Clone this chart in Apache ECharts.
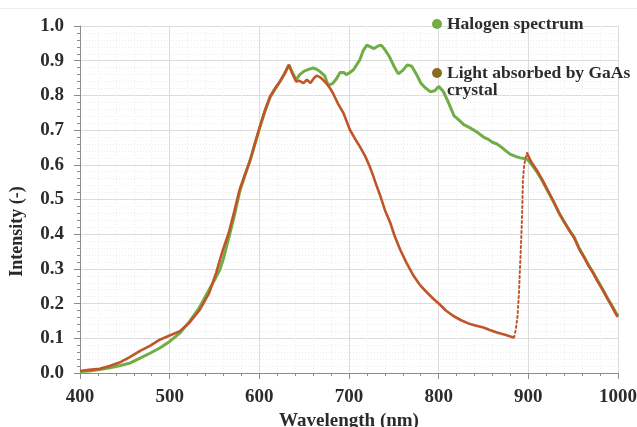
<!DOCTYPE html>
<html>
<head>
<meta charset="utf-8">
<script src="https://cdn.jsdelivr.net/npm/echarts@6/dist/echarts.min.js"></script>
<style>html,body{margin:0;padding:0;background:#fff}#c{width:637px;height:427px}</style>
</head>
<body>
<div id="c"></div>
<script>
// ---- data ----
const xTicks = [400, 500, 600, 700, 800, 900, 1000];
const yTicks = [0.0, 0.1, 0.2, 0.3, 0.4, 0.5, 0.6, 0.7, 0.8, 0.9, 1.0];

const halogenWave = [400,410,420,432,444,455,467,478,489,500,511,522,533,544,550,556,560,566,572,578,584,590,595,600,606,612,618,623,628,633,637,641,645,650,655,660,664,668,673,677,682,686,690,694,697,701,705,709,712,716,720,724,728,732,736,740,745,750,755,760,765,770,775,780,785,791,796,800,805,810,817,823,828,834,839,845,850,855,860,865,869,875,880,886,891,895,899,904,910,916,922,928,935,940,946,951,957,962,967,972,977,983,988,993,998,1000];
const halogenInt = [0.004,0.006,0.009,0.014,0.021,0.028,0.043,0.057,0.072,0.091,0.114,0.148,0.188,0.24,0.268,0.298,0.33,0.39,0.452,0.522,0.57,0.615,0.66,0.703,0.752,0.795,0.82,0.84,0.862,0.888,0.865,0.845,0.86,0.87,0.875,0.879,0.875,0.868,0.856,0.828,0.835,0.848,0.866,0.866,0.86,0.866,0.874,0.89,0.902,0.93,0.945,0.94,0.935,0.942,0.945,0.932,0.912,0.885,0.862,0.872,0.888,0.884,0.862,0.836,0.822,0.81,0.814,0.826,0.812,0.785,0.742,0.728,0.716,0.708,0.7,0.69,0.68,0.674,0.665,0.66,0.653,0.64,0.63,0.624,0.62,0.618,0.615,0.6,0.578,0.552,0.522,0.494,0.458,0.436,0.41,0.392,0.358,0.336,0.312,0.29,0.268,0.24,0.217,0.195,0.172,0.165];

const absorbedWave = [400,410,422,433,444,455,467,478,489,500,511,522,533,544,552,559,566,572,578,584,590,595,600,606,612,618,623,628,633,637,641,645,649,653,657,661,664,668,671,675,679,682,688,694,701,706,712,718,723,727,731,735,740,746,751,757,764,772,779,787,794,801,808,816,825,835,842,850,857,865,874,880,884,886,888,889.5,890.5,891.5,892.5,893.3,894,895,896.5,898.5,900,904,910,916,922,928,935,940,946,951,957,962,967,972,977,983,988,993,998,1000];
const absorbedInt = [0.006,0.009,0.012,0.02,0.03,0.045,0.064,0.078,0.096,0.108,0.12,0.145,0.18,0.23,0.29,0.352,0.405,0.465,0.528,0.572,0.615,0.66,0.705,0.755,0.797,0.822,0.84,0.862,0.888,0.862,0.84,0.842,0.835,0.845,0.836,0.85,0.857,0.852,0.845,0.834,0.82,0.807,0.775,0.748,0.701,0.678,0.653,0.625,0.596,0.568,0.538,0.51,0.47,0.433,0.394,0.356,0.318,0.28,0.254,0.232,0.214,0.198,0.18,0.165,0.152,0.141,0.136,0.131,0.124,0.117,0.11,0.105,0.102,0.125,0.165,0.23,0.29,0.35,0.415,0.48,0.555,0.59,0.615,0.634,0.625,0.605,0.582,0.555,0.525,0.495,0.457,0.435,0.41,0.39,0.356,0.334,0.31,0.29,0.265,0.24,0.215,0.193,0.168,0.162];
// sparse (dotted) stretch of the absorbed curve
const riseStart = 884, riseEnd = 898.5;

const nameHalogen = 'Halogen spectrum';
const nameAbsorbed = 'Light absorbed by GaAs crystal';

// ---- build ----
const zip = (xs, ys) => xs.map((x, i) => [x, ys[i]]);
const halogenData = zip(halogenWave, halogenInt);
const absorbedAll = zip(absorbedWave, absorbedInt);
const segA = absorbedAll.filter(p => p[0] <= riseStart);
const segB = absorbedAll.filter(p => p[0] >= riseStart && p[0] <= riseEnd);
const segC = absorbedAll.filter(p => p[0] >= riseEnd);

const FONT = 'Liberation Serif';
const TXT = '#2b2b2b';
const AXC = '#8c8c8c';
const GREEN = '#70ad47';
const RED = '#c0552a';
const BROWN = '#8d6a22';

const chart = echarts.init(document.getElementById('c'), null, {renderer: 'canvas'});

const legendText = {fontFamily: FONT, fontWeight: 'bold', fontSize: 17.5, color: TXT, lineHeight: 17};

chart.setOption({
  animation: false,
  backgroundColor: '#fff',
  graphic: [{type: 'line', shape: {x1: 0, y1: 8.5, x2: 637, y2: 8.5}, style: {stroke: '#ececec', lineWidth: 1}, silent: true}],
  grid: {left: 80, right: 19, top: 26, bottom: 54, containLabel: false, outerBoundsMode: 'none'},
  legend: [
    {
      data: [{name: nameHalogen, icon: 'circle', itemStyle: {color: GREEN}}],
      left: 432, top: 15, padding: 0, itemWidth: 10, itemHeight: 10,
      selectedMode: false, textStyle: legendText
    },
    {
      data: [{name: nameAbsorbed, icon: 'circle', itemStyle: {color: BROWN}}],
      left: 432, top: 47, padding: 0, itemWidth: 10, itemHeight: 10,
      selectedMode: false,
      formatter: () => ' \nLight absorbed by GaAs\ncrystal',
      textStyle: legendText
    }
  ],
  xAxis: {
    type: 'value', min: xTicks[0], max: xTicks[xTicks.length - 1], interval: xTicks[1] - xTicks[0],
    name: 'Wavelength (nm)', nameLocation: 'middle', nameGap: 37,
    nameTextStyle: {fontFamily: FONT, fontWeight: 'bold', fontSize: 19, color: TXT},
    axisLine: {show: true, onZero: false, lineStyle: {color: AXC, width: 1}},
    axisTick: {show: true, inside: false, length: 6, lineStyle: {color: AXC}},
    minorTick: {show: true, splitNumber: 5, length: 3, lineStyle: {color: AXC}},
    axisLabel: {margin: 15, fontFamily: FONT, fontWeight: 'bold', fontSize: 19, color: TXT,
                formatter: v => String(v)},
    splitLine: {show: true, lineStyle: {color: '#dcdcdc', width: 1}},
    minorSplitLine: {show: true, lineStyle: {color: '#ececec', width: 1, type: [1, 2]}}
  },
  yAxis: {
    type: 'value', min: yTicks[0], max: yTicks[yTicks.length - 1], interval: 0.1,
    name: 'Intensity (-)', nameLocation: 'middle', nameGap: 54,
    nameTextStyle: {fontFamily: FONT, fontWeight: 'bold', fontSize: 18, color: TXT, padding: [0, 64, 0, 0]},
    axisLine: {show: true, onZero: false, lineStyle: {color: AXC, width: 1}},
    axisTick: {show: true, inside: false, length: 6, lineStyle: {color: AXC}},
    minorTick: {show: true, splitNumber: 5, length: 3, lineStyle: {color: AXC}},
    axisLabel: {margin: 16, fontFamily: FONT, fontWeight: 'bold', fontSize: 19, color: TXT,
                formatter: v => v.toFixed(1)},
    splitLine: {show: true, lineStyle: {color: '#dcdcdc', width: 1}},
    minorSplitLine: {show: true, lineStyle: {color: '#ececec', width: 1, type: [1, 2]}}
  },
  series: [
    {name: nameHalogen, type: 'line', data: halogenData, showSymbol: false, smooth: false,
     lineStyle: {color: GREEN, width: 3}, itemStyle: {color: GREEN}, z: 2},
    {name: nameAbsorbed, type: 'line', data: segA, showSymbol: false,
     lineStyle: {color: RED, width: 2.6}, itemStyle: {color: RED}, z: 3},
    {name: nameAbsorbed, type: 'line', data: segB, showSymbol: false,
     lineStyle: {color: RED, width: 2, type: [2, 3], cap: 'round'}, itemStyle: {color: RED}, z: 3},
    {name: nameAbsorbed, type: 'line', data: segC, showSymbol: false,
     lineStyle: {color: RED, width: 2.6}, itemStyle: {color: RED}, z: 3}
  ]
});
</script>
</body>
</html>
